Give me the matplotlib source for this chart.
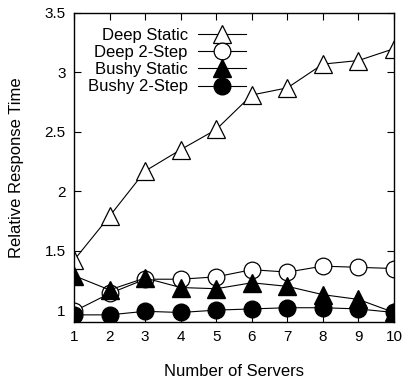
import matplotlib
matplotlib.use("Agg")
import matplotlib.pyplot as plt

plt.rcParams['font.family'] = ['Liberation Sans', 'DejaVu Sans']

servers = [1, 2, 3, 4, 5, 6, 7, 8, 9, 10]
deep_static = [1.42, 1.79, 2.17, 2.35, 2.52, 2.81, 2.87, 3.07, 3.10, 3.20]
deep_2step = [0.99, 1.14, 1.26, 1.26, 1.28, 1.34, 1.32, 1.37, 1.36, 1.35]
bushy_static = [1.29, 1.17, 1.27, 1.19, 1.18, 1.23, 1.20, 1.13, 1.09, 0.98]
bushy_2step = [0.96, 0.96, 0.99, 0.98, 1.00, 1.01, 1.02, 1.02, 1.01, 0.98]

W, H = 403, 382
fig = plt.figure(figsize=(W / 100, H / 100), dpi=100)
ax = fig.add_axes([74 / W, 1 - 322 / H, 320 / W, 309 / H])

lw = 0.8
ax.plot(servers, deep_static, color='black', lw=lw, marker='^', ms=13,
        mfc='white', mec='black', mew=0.9, label='Deep Static')
ax.plot(servers, deep_2step, color='black', lw=lw, marker='o', ms=12,
        mfc='white', mec='black', mew=0.9, label='Deep 2-Step')
ax.plot(servers, bushy_static, color='black', lw=lw, marker='^', ms=13,
        mfc='black', mec='black', label='Bushy Static')
ax.plot(servers, bushy_2step, color='black', lw=lw, marker='o', ms=12,
        mfc='black', mec='black', label='Bushy 2-Step')

ax.set_xlim(1, 10)
ax.set_ylim(0.9, 3.5)
ax.set_xticks(servers)
ax.set_yticks([1, 1.5, 2, 2.5, 3, 3.5])
ax.set_yticklabels(['1', '1.5', '2', '2.5', '3', '3.5'])
ax.tick_params(direction='in', top=True, right=True, length=5, labelsize=11, pad=6)
for s in ax.spines.values():
    s.set_linewidth(1.0)

ax.set_xlabel('Number of Servers', fontsize=12, labelpad=14)
ax.set_ylabel('Relative Response Time', fontsize=12, labelpad=15)

# legend: labels right-aligned, sample marker to the right of the text
leg = ax.legend(loc='upper right', bbox_to_anchor=(246 / W, 1 - 28 / H),
                bbox_transform=fig.transFigure, frameon=False,
                markerfirst=False, fontsize=12, handlelength=2.9,
                labelspacing=0.13, handletextpad=0.6, borderaxespad=0,
                borderpad=0)
for t in leg.get_texts():
    t.set_horizontalalignment('right')

fig.savefig('out.png', dpi=100)
